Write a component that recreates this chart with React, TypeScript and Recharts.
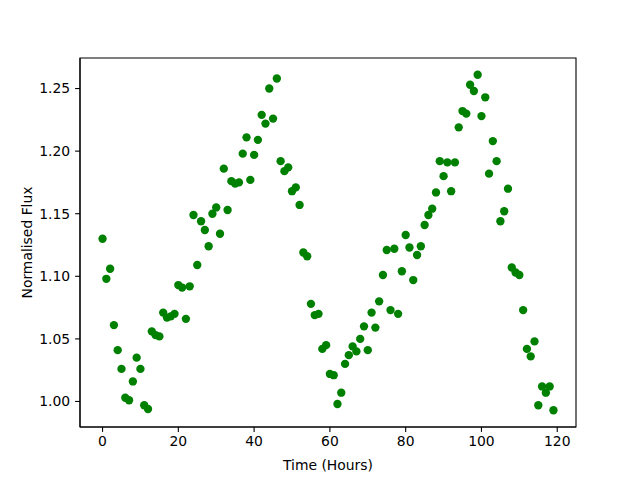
import { ScatterChart, Scatter, XAxis, YAxis, ReferenceArea } from 'recharts'

// hourly samples
const hours: number[] = Array.from({ length: 120 }, (_, i) => i)

const flux: number[] = [
  1.130, 1.098, 1.106, 1.061, 1.041, 1.026, 1.003, 1.001, 1.016, 1.035,
  1.026, 0.997, 0.994, 1.056, 1.053, 1.052, 1.071, 1.067, 1.068, 1.070,
  1.093, 1.091, 1.066, 1.092, 1.149, 1.109, 1.144, 1.137, 1.124, 1.150,
  1.155, 1.134, 1.186, 1.153, 1.176, 1.174, 1.175, 1.198, 1.211, 1.177,
  1.197, 1.209, 1.229, 1.222, 1.250, 1.226, 1.258, 1.192, 1.184, 1.187,
  1.168, 1.171, 1.157, 1.119, 1.116, 1.078, 1.069, 1.070, 1.042, 1.045,
  1.022, 1.021, 0.998, 1.007, 1.030, 1.037, 1.044, 1.040, 1.050, 1.060,
  1.041, 1.071, 1.059, 1.080, 1.101, 1.121, 1.073, 1.122, 1.070, 1.104,
  1.133, 1.123, 1.097, 1.117, 1.124, 1.141, 1.149, 1.154, 1.167, 1.192,
  1.180, 1.191, 1.168, 1.191, 1.219, 1.232, 1.230, 1.253, 1.248, 1.261,
  1.228, 1.243, 1.182, 1.208, 1.192, 1.144, 1.152, 1.170, 1.107, 1.103,
  1.101, 1.073, 1.042, 1.036, 1.048, 0.997, 1.012, 1.007, 1.012, 0.993,
]

const xTicks = [0, 20, 40, 60, 80, 100, 120]
const yTicks = [1.0, 1.05, 1.1, 1.15, 1.2, 1.25]

const data = hours.map((h, i) => ({ time: h, flux: flux[i] }))

// matplotlib-style 5% margins
const xMin = -5.95
const xMax = 124.95
const yMin = 0.9796
const yMax = 1.2744

const font = 'DejaVu Sans, sans-serif'
const fs = 13.9

const Dot = (props: any) => <circle cx={props.cx} cy={props.cy} r={4.17} fill="#008000" />

export default function App() {
  return (
    <div style={{ position: 'absolute', left: 0, top: 0, width: 640, height: 480, background: '#fff' }}>
      <ScatterChart width={640} height={480} margin={{ top: 58, right: 64, left: 0, bottom: 0 }}>
        <XAxis
          type="number"
          dataKey="time"
          domain={[xMin, xMax]}
          allowDataOverflow
          ticks={xTicks}
          interval={0}
          height={53}
          tickSize={4.9}
          tickMargin={4}
          stroke="#000"
          strokeWidth={1.1}
          tick={{ fill: '#000', fontSize: fs, fontFamily: font }}
          label={{ value: 'Time (Hours)', position: 'insideBottom', offset: 10, fill: '#000', fontSize: fs, fontFamily: font }}
        />
        <YAxis
          type="number"
          dataKey="flux"
          domain={[yMin, yMax]}
          allowDataOverflow
          ticks={yTicks}
          interval={0}
          width={80}
          tickSize={4.9}
          tickMargin={4.9}
          stroke="#000"
          strokeWidth={1.1}
          tickFormatter={(v: number) => v.toFixed(2)}
          tick={{ fill: '#000', fontSize: fs, fontFamily: font }}
          label={{
            value: 'Normalised Flux',
            angle: -90,
            position: 'insideLeft',
            offset: 27,
            fill: '#000',
            fontSize: fs,
            fontFamily: font,
            style: { textAnchor: 'middle' }
          }}
        />
        <Scatter data={data} shape={Dot} isAnimationActive={false} />
        <ReferenceArea x1={xMin} x2={xMax} y1={yMin} y2={yMax} fill="none" stroke="#000" strokeWidth={1.1} fillOpacity={0} />
      </ScatterChart>
    </div>
  )
}
